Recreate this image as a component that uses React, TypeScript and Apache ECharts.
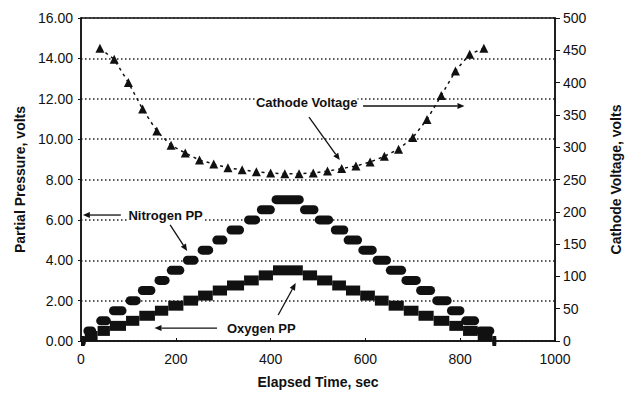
import React, { useEffect, useRef } from "react";
import * as echarts from "echarts";

// Cathode voltage (right axis)
const cathodeTime = [40, 70, 100, 130, 160, 190, 220, 250, 280, 310, 340, 370, 400, 430, 460, 490, 520, 550, 580, 610, 640, 670, 700, 730, 760, 790, 820, 850];
const cathodeVolts = [453, 436, 400, 359, 325, 303, 291, 280, 274, 268, 265, 262, 260, 259, 259, 260, 263, 267, 271, 277, 286, 297, 315, 343, 380, 418, 444, 453];

// Nitrogen partial pressure steps (left axis): time span of each step
const nitroStart = [0, 5, 32, 59, 94, 120, 155, 181, 215, 246, 277, 307, 344, 371, 402, 462, 493, 527, 554, 585, 615, 643, 676, 707, 741, 772, 802, 833, 868];
const nitroEnd = [10, 32, 63, 96, 126, 157, 187, 218, 248, 279, 309, 344, 378, 409, 470, 501, 532, 564, 593, 624, 654, 686, 717, 747, 782, 809, 840, 872, 876];
const nitroLevel = [0, 0.5, 1, 1.5, 2, 2.5, 3, 3.5, 4, 4.5, 5, 5.5, 6, 6.5, 7, 6.5, 6, 5.5, 5, 4.5, 4, 3.5, 3, 2.5, 2, 1.5, 1, 0.5, 0];

// Oxygen partial pressure steps (left axis)
const oxyStart = [0, 8, 35, 61, 95, 123, 156, 184, 216, 247, 278, 308, 344, 375, 405, 468, 498, 530, 559, 589, 620, 649, 681, 712, 744, 777, 806, 837, 868];
const oxyEnd = [8, 35, 61, 95, 123, 156, 184, 216, 247, 278, 308, 344, 375, 405, 468, 498, 530, 559, 589, 620, 649, 681, 712, 744, 777, 806, 837, 868, 876];
const oxyLevel = [0, 0.25, 0.5, 0.75, 1, 1.25, 1.5, 1.75, 2, 2.25, 2.5, 2.75, 3, 3.25, 3.5, 3.25, 3, 2.75, 2.5, 2.25, 2, 1.75, 1.5, 1.25, 1, 0.75, 0.5, 0.25, 0];

// Axis ticks
const xTicks = [0, 200, 400, 600, 800, 1000];
const leftTicks = [0, 2, 4, 6, 8, 10, 12, 14, 16];
const rightTicks = [0, 50, 100, 150, 200, 250, 300, 350, 400, 450, 500];

// Annotations (data coords on left axis)
const labels = [
  { text: "Cathode Voltage", x: 369, y: 11.79 },
  { text: "Nitrogen PP", x: 100, y: 6.24 },
  { text: "Oxygen PP", x: 308, y: 0.64 },
];
const arrows = [
  [[595, 11.64], [809, 11.64]],
  [[481, 11.09], [546, 8.96]],
  [[84, 6.24], [4, 6.24]],
  [[188, 5.75], [224, 4.46]],
  [[287, 0.64], [155, 0.64]],
  [[416, 1.29], [453, 2.87]],
];

const FONT = "'Liberation Sans', Arial, sans-serif";
const INK = "#111";

function stepRender(height: number, round: boolean) {
  return (params: any, api: any) => {
    const p1 = api.coord([api.value(0), api.value(2)]);
    const p2 = api.coord([api.value(1), api.value(2)]);
    return {
      type: "rect",
      shape: { x: p1[0], y: p1[1] - height / 2, width: p2[0] - p1[0], height, r: round ? height / 2 : 0 },
      style: { fill: INK },
    };
  };
}

export default function App() {
  const ref = useRef<HTMLDivElement>(null);
  useEffect(() => {
    if (!ref.current) return;
    const chart = echarts.init(ref.current, undefined, { renderer: "svg" });
    const nitroData = nitroLevel.map((v, i) => [nitroStart[i], nitroEnd[i], v]);
    const oxyData = oxyLevel.map((v, i) => [oxyStart[i], oxyEnd[i], v]);
    const cathodeData = cathodeTime.map((t, i) => [t, cathodeVolts[i]]);
    const tickLabel = { fontFamily: FONT, fontSize: 14, color: INK };
    const nameStyle = { fontFamily: FONT, fontSize: 14, fontWeight: "bold", color: INK };
    chart.setOption({
      animation: false,
      backgroundColor: "#fff",
      grid: { left: 81, right: 60, top: 18, bottom: 53, show: true, borderColor: INK, borderWidth: 1.5, backgroundColor: "transparent" },
      xAxis: {
        type: "value",
        min: xTicks[0],
        max: xTicks[xTicks.length - 1],
        interval: 200,
        name: "Elapsed Time, sec",
        nameLocation: "middle",
        nameGap: 34,
        nameTextStyle: nameStyle,
        axisLine: { lineStyle: { color: INK, width: 1.5 } },
        axisTick: { show: true, inside: true, length: 3, lineStyle: { color: INK } },
        axisLabel: { ...tickLabel, margin: 11, formatter: (v: number) => String(v) },
        splitLine: { show: false },
      },
      yAxis: [
        {
          type: "value",
          min: leftTicks[0],
          max: leftTicks[leftTicks.length - 1],
          interval: 2,
          name: "Partial Pressure, volts",
          nameLocation: "middle",
          nameGap: 54,
          nameRotate: 90,
          nameTextStyle: nameStyle,
          axisLine: { show: true, lineStyle: { color: INK, width: 1.5 } },
          axisTick: { show: true, length: 3, lineStyle: { color: INK } },
          axisLabel: { ...tickLabel, margin: 8, formatter: (v: number) => v.toFixed(2) },
          splitLine: { show: true, lineStyle: { color: "#222", width: 1.5, type: [1.5, 2.5] } },
        },
        {
          type: "value",
          min: rightTicks[0],
          max: rightTicks[rightTicks.length - 1],
          interval: 50,
          position: "right",
          name: "Cathode Voltage, volts",
          nameLocation: "middle",
          nameGap: 54,
          nameRotate: 90,
          nameTextStyle: nameStyle,
          axisLine: { show: true, lineStyle: { color: INK, width: 1.5 } },
          axisTick: { show: true, length: 5, lineStyle: { color: INK } },
          axisLabel: { ...tickLabel, margin: 8 },
          splitLine: { show: false },
        },
      ],
      series: [
        {
          type: "custom",
          name: "Oxygen PP",
          xAxisIndex: 0,
          yAxisIndex: 0,
          data: oxyData,
          encode: { x: [0, 1], y: 2 },
          renderItem: stepRender(10, false),
          clip: false,
        },
        {
          type: "custom",
          name: "Nitrogen PP",
          xAxisIndex: 0,
          yAxisIndex: 0,
          data: nitroData,
          encode: { x: [0, 1], y: 2 },
          renderItem: stepRender(9, true),
          clip: false,
        },
        {
          type: "line",
          name: "Cathode Voltage",
          xAxisIndex: 0,
          yAxisIndex: 1,
          data: cathodeData,
          symbol: "triangle",
          symbolSize: 9,
          showSymbol: true,
          itemStyle: { color: INK },
          lineStyle: { color: INK, width: 1.5, type: [3, 4] },
        },
      ],
    });
    const px = (c: number[]) => chart.convertToPixel({ xAxisIndex: 0, yAxisIndex: 0 }, c) as number[];
    const graphic: any[] = [];
    labels.forEach((l) => {
      const p = px([l.x, l.y]);
      graphic.push({
        type: "text",
        x: p[0],
        y: p[1],
        style: { text: l.text, font: `bold 13px ${FONT}`, fill: INK, verticalAlign: "middle", backgroundColor: "#fff" },
        z: 100,
      });
    });
    arrows.forEach((a) => {
      const p1 = px(a[0]);
      const p2 = px(a[1]);
      const dx = p2[0] - p1[0];
      const dy = p2[1] - p1[1];
      const len = Math.sqrt(dx * dx + dy * dy);
      const ux = dx / len;
      const uy = dy / len;
      const hl = 7;
      const hw = 3;
      const bx = p2[0] - ux * hl;
      const by = p2[1] - uy * hl;
      graphic.push({
        type: "line",
        shape: { x1: p1[0], y1: p1[1], x2: bx, y2: by },
        style: { stroke: INK, lineWidth: 1.3 },
        z: 100,
      });
      graphic.push({
        type: "polygon",
        shape: { points: [[p2[0], p2[1]], [bx - uy * hw, by + ux * hw], [bx + uy * hw, by - ux * hw]] },
        style: { fill: INK },
        z: 100,
      });
    });
    chart.setOption({ graphic });
    return () => chart.dispose();
  }, []);
  return <div ref={ref} style={{ width: 631, height: 394, position: "absolute", left: 0, top: 0 }} />;
}
